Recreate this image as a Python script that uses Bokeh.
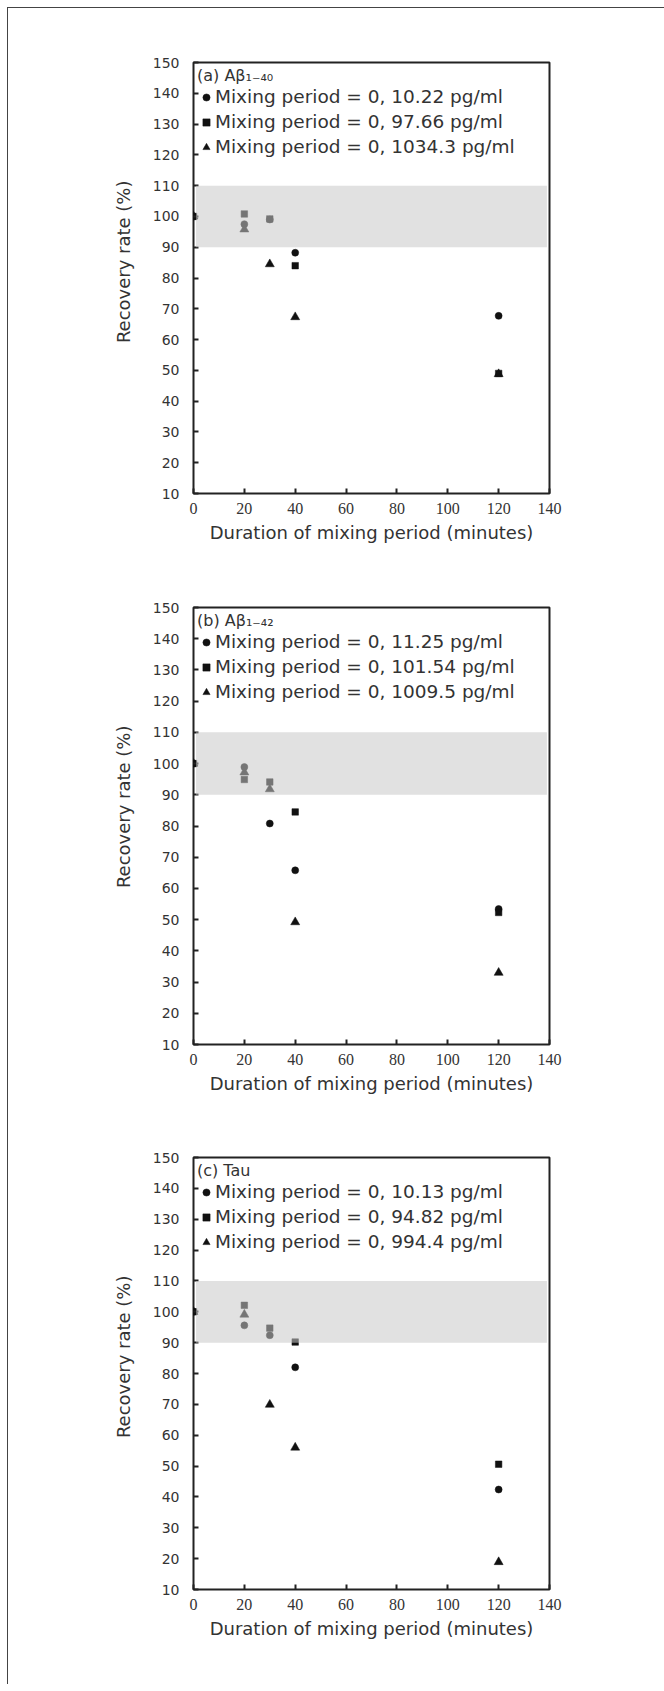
from bokeh.plotting import figure
from bokeh.models import Range1d, FixedTicker, Legend, LegendItem, BoxAnnotation, Title
from bokeh.layouts import column
from bokeh.embed import file_html
from bokeh.resources import INLINE

# ---------------- data ----------------
minutes = [0, 20, 30, 40, 120]

a_low = [100, 97.5, 99.0, 88.2, 67.7]
a_mid = [100, 100.8, 99.2, 84.0, 49.0]
a_high = [100, 95.8, 84.5, 67.3, 48.8]

b_low = [100, 98.9, 80.8, 65.8, 53.4]
b_mid = [100, 94.9, 94.1, 84.5, 52.3]
b_high = [100, 97.2, 91.8, 49.2, 33.0]

c_low = [100, 95.6, 92.4, 82.0, 42.4]
c_mid = [100, 102.1, 94.7, 90.2, 50.6]
c_high = [100, 99.1, 69.9, 56.0, 18.9]

panel_titles = ["(a) Aβ₁₋₄₀", "(b) Aβ₁₋₄₂", "(c) Tau"]
conc_a = ["10.22", "97.66", "1034.3"]
conc_b = ["11.25", "101.54", "1009.5"]
conc_c = ["10.13", "94.82", "994.4"]

x_ticks = [0, 20, 40, 60, 80, 100, 120, 140]
y_ticks = [10, 20, 30, 40, 50, 60, 70, 80, 90, 100, 110, 120, 130, 140, 150]
band_low, band_high = 90, 110

x_title = "Duration of mixing period (minutes)"
y_title = "Recovery rate (%)"

# ---------------- styling ----------------
TEXT = "#333333"
INK = "#111111"
SANS = "DejaVu Sans"
SERIF = "Liberation Serif"
markers = ["circle", "square", "triangle"]
marker_sizes = [7, 6.5, 9]


def make_panel(title, series, concs, top, frame_h, bottom):
    p = figure(frame_width=356, frame_height=frame_h,
               min_border_left=185, min_border_right=115,
               min_border_top=top, min_border_bottom=bottom,
               x_range=Range1d(0, 140), y_range=Range1d(10, 150),
               output_backend="svg", toolbar_location=None, tools="")
    p.grid.visible = False
    p.outline_line_color = "#222222"
    p.outline_line_width = 2
    p.outline_line_alpha = 1

    p.xaxis.ticker = FixedTicker(ticks=x_ticks)
    p.yaxis.ticker = FixedTicker(ticks=y_ticks)
    for ax in (p.xaxis, p.yaxis):
        ax.axis_line_color = None
        ax.major_tick_in = 5
        ax.major_tick_out = 0
        ax.major_tick_line_color = "#222222"
        ax.major_tick_line_width = 2
        ax.minor_tick_line_color = None
        ax.major_label_text_color = TEXT
    p.xaxis.major_label_text_font = SERIF
    p.xaxis.major_label_text_font_size = "16px"
    p.xaxis.major_label_standoff = 9
    p.xaxis.axis_label = x_title
    p.xaxis.axis_label_standoff = 5
    p.xaxis.axis_label_text_color = TEXT
    p.xaxis.axis_label_text_font = SANS
    p.xaxis.axis_label_text_font_size = "18px"
    p.xaxis.axis_label_text_font_style = "normal"
    p.yaxis.major_label_text_font = SANS
    p.yaxis.major_label_text_font_size = "14px"
    p.yaxis.major_label_standoff = 14

    # y-axis title as a side title, so it can sit a little above the centre
    p.add_layout(Title(text=y_title, align="right", offset=118, standoff=32,
                       text_font=SANS, text_font_size="18px",
                       text_font_style="normal", text_color=TEXT), "left")

    items = []
    for vals, mk, sz, conc in zip(series, markers, marker_sizes, concs):
        r = p.scatter(minutes, vals, marker=mk, size=sz,
                      fill_color=INK, line_color=INK, line_width=0.5)
        items.append(LegendItem(label=f"Mixing period = 0, {conc} pg/ml", renderers=[r]))

    band = BoxAnnotation(left=1, right=139, bottom=band_low, top=band_high,
                         fill_color="#c8c8c8", fill_alpha=0.55, line_color=None)
    p.add_layout(band)

    legend = Legend(items=items, title=title, location="top_left",
                    border_line_color=None, background_fill_alpha=0,
                    margin=4, padding=6, spacing=4,
                    glyph_width=18, glyph_height=20, label_height=20,
                    label_standoff=0, title_standoff=1,
                    label_text_font=SANS, label_text_font_size="18.5px",
                    label_text_color=TEXT,
                    title_text_font=SANS, title_text_font_size="16px",
                    title_text_font_style="normal", title_text_color=TEXT)
    p.add_layout(legend)
    return p


p1 = make_panel(panel_titles[0], [a_low, a_mid, a_high], conc_a, 54, 431, 62)
p2 = make_panel(panel_titles[1], [b_low, b_mid, b_high], conc_b, 52, 437, 60)
p3 = make_panel(panel_titles[2], [c_low, c_mid, c_high], conc_c, 53, 432, 95)

layout = column(p1, p2, p3, spacing=0,
                styles={"margin-left": "7px", "margin-top": "7px",
                        "border-left": "1px solid #444444",
                        "border-top": "1px solid #444444"})

open("out.html", "w").write(file_html(layout, INLINE))
